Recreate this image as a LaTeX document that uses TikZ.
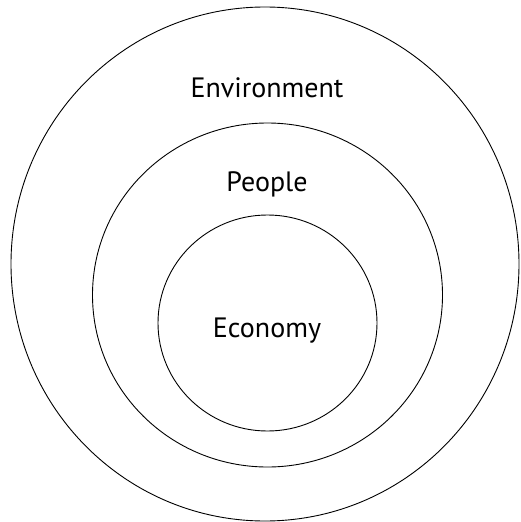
\documentclass[tikz,border=0pt]{standalone}
\usepackage{fontspec}
\setmainfont{PT Sans}
\usetikzlibrary{shapes.geometric}

\begin{document}
\begin{tikzpicture}[x=1pt, y=-1pt,
    ring/.style={draw, ellipse, line width=0.9pt, inner sep=0pt},
    label/.style={anchor=base, font=\fontsize{28}{33}\selectfont}]
    \useasboundingbox (0,0) rectangle (520,522);
    \node[ring, minimum width=508pt, minimum height=514pt] (env) at (265,264) {};
    \node[ring, minimum width=350pt, minimum height=344pt] (ppl) at (267.5,295) {};
    \node[ring, minimum width=219pt, minimum height=216pt] (eco) at (267.5,323) {};
    \node[label] (envtext) at (267,97) {Environment};
    \node[label] (ppltext) at (267,191) {People};
    \node[label] (ecotext) at (267,337) {Economy};
\end{tikzpicture}
\end{document}
